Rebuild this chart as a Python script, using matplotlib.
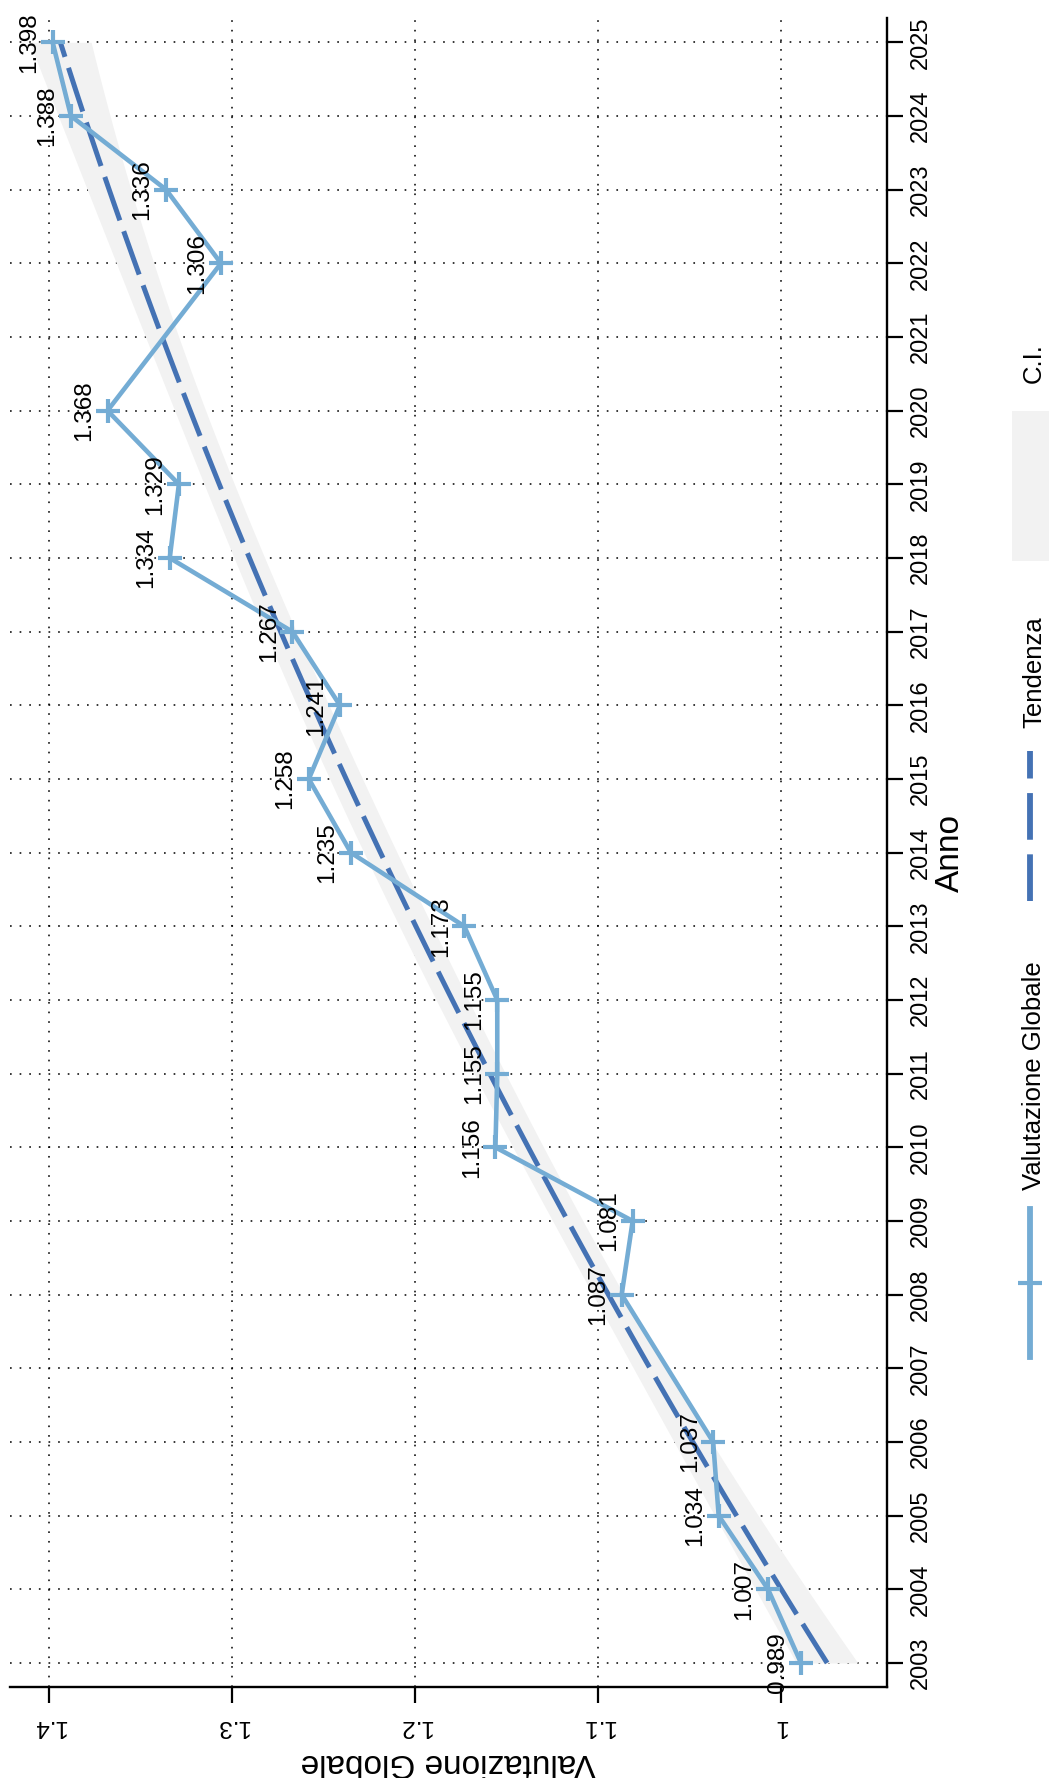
import numpy as np
import matplotlib
matplotlib.use("Agg")
import matplotlib.pyplot as plt
from matplotlib.lines import Line2D
from matplotlib.patches import Rectangle

plt.rcParams['font.family'] = ['Liberation Sans', 'DejaVu Sans']

# ---------------- data ----------------
years = [2003, 2004, 2005, 2006, 2008, 2009, 2010, 2011, 2012, 2013, 2014,
         2015, 2016, 2017, 2018, 2019, 2020, 2022, 2023, 2024, 2025]
values = [0.989, 1.007, 1.034, 1.037, 1.087, 1.081, 1.156, 1.155, 1.155, 1.173, 1.235,
          1.258, 1.241, 1.267, 1.334, 1.329, 1.368, 1.306, 1.336, 1.388, 1.398]
year_ticks = list(range(2003, 2026))
value_ticks = [1.0, 1.1, 1.2, 1.3, 1.4]
value_tick_labels = ['1', '1.1', '1.2', '1.3', '1.4']
series_label = 'Valutazione Globale'
trend_label = 'Tendenza'
ci_label = 'C.I.'
x_title = 'Anno'
y_title = 'Valutazione Globale'
ci_mult = 1.1

# colours
c_line = '#74acd4'
c_trend = '#4472b4'
c_ci = '#f2f2f2'

# ---------------- quadratic fit with confidence band ----------------
yr = np.array(years, dtype=float)
vv = np.array(values, dtype=float)
xc = yr - yr.mean()
X = np.column_stack([np.ones_like(xc), xc, xc ** 2])
beta, *_ = np.linalg.lstsq(X, vv, rcond=None)
resid = vv - X @ beta
s2 = resid @ resid / (len(vv) - 3)
XtX_inv = np.linalg.inv(X.T @ X)
grid = np.linspace(yr.min(), yr.max(), 100)
gc = grid - yr.mean()
G = np.column_stack([np.ones_like(gc), gc, gc ** 2])
fit = G @ beta
se = np.sqrt(s2 * np.einsum('ij,jk,ik->i', G, XtX_inv, G))
lo = fit - ci_mult * se
hi = fit + ci_mult * se

# ---------------- figure ----------------
W, H = 1049, 1778
fig = plt.figure(figsize=(W / 100, H / 100), dpi=100)


def fx(px):
    return px / W


def fy(py):
    return 1 - py / H


ax_l, ax_r, ax_t, ax_b = 10, 887, 18, 1687
ax = fig.add_axes([fx(ax_l), fy(ax_b), (ax_r - ax_l) / W, (ax_b - ax_t) / H])

ax.fill_betweenx(grid, lo, hi, color=c_ci, lw=0, zorder=1)
ax.plot(fit, grid, color=c_trend, lw=3.6, dashes=(9.2, 2.3),
        dash_capstyle='butt', zorder=2)
ax.plot(values, years, color=c_line, lw=3.3, marker='+', ms=17, mew=3,
        zorder=3)

for y, v in zip(years, values):
    ax.annotate(f'{v:.3f}', (v, y), xytext=(-9, 0), textcoords='offset points',
                rotation=90, ha='right', va='center', fontsize=17.5, zorder=4)

ax.set_xlim(1.4213, 0.942)
ax.set_ylim(2002.674, 2025.33)

for s in ('left', 'top'):
    ax.spines[s].set_visible(False)
for s in ('bottom', 'right'):
    ax.spines[s].set_linewidth(1.7)

ax.yaxis.tick_right()
ax.set_yticks(year_ticks)
ax.set_yticklabels([str(y) for y in year_ticks], rotation=90, va='center', ha='left')
ax.set_xticks(value_ticks)
ax.set_xticklabels(value_tick_labels, rotation=180)
ax.tick_params(axis='y', direction='out', length=11.5, width=1.6, pad=5,
               labelsize=17)
ax.tick_params(axis='x', direction='out', length=11.5, width=1.6, pad=9,
               labelsize=17.5)

ax.grid(True, color='black', linestyle=(0, (1.1, 5.2)), linewidth=1.1)
ax.set_axisbelow(True)

# axis titles
fig.text(fx(950), fy(853), x_title, rotation=90, ha='center', va='center',
         fontsize=24)
fig.text(fx(448), fy(1763), y_title, rotation=180, ha='center', va='center',
         fontsize=24)

# legend (drawn manually, rotated)
fig.add_artist(Rectangle((fx(1012), fy(561)), fx(1049) - fx(1012), fy(411) - fy(561),
                         transform=fig.transFigure, color=c_ci, lw=0))
fig.text(fx(1034), fy(363), ci_label, rotation=90, ha='center', va='center', fontsize=18.5)

fig.add_artist(Line2D([fx(1030), fx(1030)], [fy(901), fy(751)], transform=fig.transFigure,
                      color=c_trend, lw=4.2, dashes=(8, 2.5), dash_capstyle='butt'))
fig.text(fx(1034), fy(672), trend_label, rotation=90, ha='center', va='center', fontsize=18.5)

fig.add_artist(Line2D([fx(1030), fx(1030)], [fy(1357), fy(1209)], transform=fig.transFigure,
                      color=c_line, lw=4.2))
fig.add_artist(Line2D([fx(1030)], [fy(1283)], transform=fig.transFigure,
                      color=c_line, marker='+', ms=17, mew=3, lw=0))
fig.text(fx(1034), fy(1076), series_label, rotation=90, ha='center', va='center', fontsize=18.5)

fig.savefig('out.png', dpi=100)
